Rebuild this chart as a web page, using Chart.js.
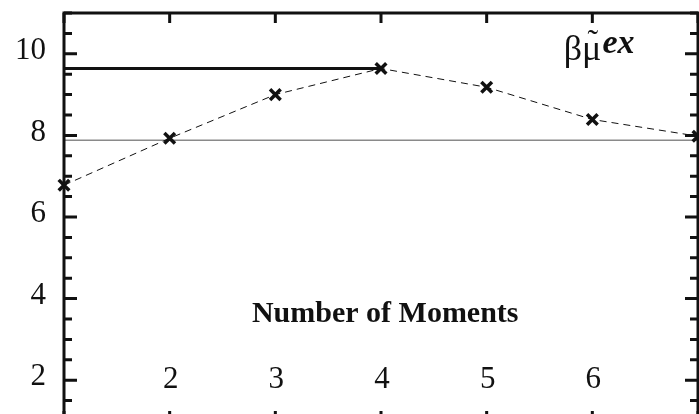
<!DOCTYPE html>
<html>
<head>
<meta charset="utf-8">
<script src="https://cdn.jsdelivr.net/npm/chart.js@4/dist/chart.umd.min.js"></script>
<style>
    html, body { margin: 0; padding: 0; background: #fff; overflow: hidden; }
    #chart { display: block; }
</style>
</head>
<body>
<canvas id="chart" width="699" height="430"></canvas>
<script>
// Data
const moments = [1, 2, 3, 4, 5, 6, 7];
const muEx = [6.78, 7.93, 9.0, 9.64, 9.18, 8.39, 7.98];
const exactX = [1, 4];
const exactLevel = 9.64;
const refX = [1, 7];
const refLevel = 7.88;
const xTickLabels = ['2', '3', '4', '5', '6'];
const xTickValues = [2, 3, 4, 5, 6];
const yTickLabels = ['2', '4', '6', '8', '10'];
const yTickValues = [2, 4, 6, 8, 10];

const SERIF = '"Liberation Serif", "DejaVu Serif", serif';

// Frame, inward ticks, all labels (the reference draws them inside the plot)
const framePlugin = {
    id: 'frame',
    afterDraw(chart) {
        const { ctx, chartArea: a, scales: { x, y } } = chart;
        ctx.save();
        ctx.strokeStyle = '#111';
        ctx.lineWidth = 3;
        ctx.strokeRect(a.left, a.top, a.right - a.left, a.bottom - a.top);

        // x ticks, top and bottom, pointing inward
        for (let v = 1; v <= 7; v++) {
            const px = x.getPixelForValue(v);
            ctx.beginPath();
            ctx.moveTo(px, a.top); ctx.lineTo(px, a.top + 10);
            ctx.moveTo(px, a.bottom); ctx.lineTo(px, a.bottom - 10);
            ctx.stroke();
        }
        // y ticks, left and right: major every 2, minor every 0.5
        for (let v = 1; v <= 11.001; v += 0.5) {
            const py = y.getPixelForValue(v);
            const major = Math.abs(v / 2 - Math.round(v / 2)) < 1e-6;
            const len = major ? 13 : 8;
            ctx.beginPath();
            ctx.moveTo(a.left, py); ctx.lineTo(a.left + len, py);
            ctx.moveTo(a.right, py); ctx.lineTo(a.right - len, py);
            ctx.stroke();
        }

        ctx.fillStyle = '#111';
        ctx.font = '31px ' + SERIF;
        ctx.textBaseline = 'middle';

        // y tick labels, right aligned left of the axis
        ctx.textAlign = 'right';
        yTickLabels.forEach((t, i) => {
            ctx.fillText(t, a.left - 18, y.getPixelForValue(yTickValues[i]) - 3);
        });

        // x tick labels sit inside the plot
        ctx.textAlign = 'center';
        xTickLabels.forEach((t, i) => {
            ctx.fillText(t, x.getPixelForValue(xTickValues[i]) + 1, y.getPixelForValue(2));
        });

        // axis title, also inside
        ctx.font = 'bold 30px ' + SERIF;
        ctx.fillText('Number of Moments', x.getPixelForValue(4.04), y.getPixelForValue(3.62));

        // series label: beta mu-tilde ^ex
        ctx.textAlign = 'left';
        ctx.textBaseline = 'alphabetic';
        ctx.font = '36px ' + SERIF;
        const lx = x.getPixelForValue(5.73);
        const ly = y.getPixelForValue(9.85);
        ctx.fillText('β', lx, ly);
        const wb = ctx.measureText('β').width;
        ctx.fillText('μ', lx + wb, ly);
        const wm = ctx.measureText('μ').width;
        ctx.textAlign = 'center';
        ctx.font = '32px ' + SERIF;
        ctx.fillText('˜', lx + wb + wm / 2 + 1, ly - 9);
        ctx.textAlign = 'left';
        ctx.font = 'italic bold 34px ' + SERIF;
        ctx.fillText('ex', lx + wb + wm + 1, ly - 7);
        ctx.restore();
    }
};

new Chart(document.getElementById('chart').getContext('2d'), {
    type: 'line',
    data: {
        datasets: [
            {
                label: 'muEx',
                data: moments.map((m, i) => ({ x: m, y: muEx[i] })),
                borderColor: '#111',
                borderWidth: 1,
                borderDash: [7, 5],
                pointStyle: 'crossRot',
                pointRadius: 7.5,
                pointBorderWidth: 3.5,
                pointBorderColor: '#111',
                clip: false,
                order: 0
            },
            {
                label: 'exact',
                data: exactX.map(v => ({ x: v, y: exactLevel })),
                borderColor: '#111',
                borderWidth: 3,
                pointRadius: 0,
                order: 1
            },
            {
                label: 'reference',
                data: refX.map(v => ({ x: v, y: refLevel })),
                borderColor: '#8a8a8a',
                borderWidth: 1.5,
                pointRadius: 0,
                order: 2
            }
        ]
    },
    options: {
        responsive: false,
        animation: false,
        layout: { autoPadding: false, padding: { top: 13, right: 1, bottom: 9, left: 64 } },
        plugins: { legend: { display: false }, tooltip: { enabled: false } },
        scales: {
            x: {
                type: 'linear',
                display: false,
                min: 1,
                max: 7
            },
            y: {
                display: false,
                min: 1,
                max: 11
            }
        }
    },
    plugins: [framePlugin]
});
</script>
</body>
</html>
